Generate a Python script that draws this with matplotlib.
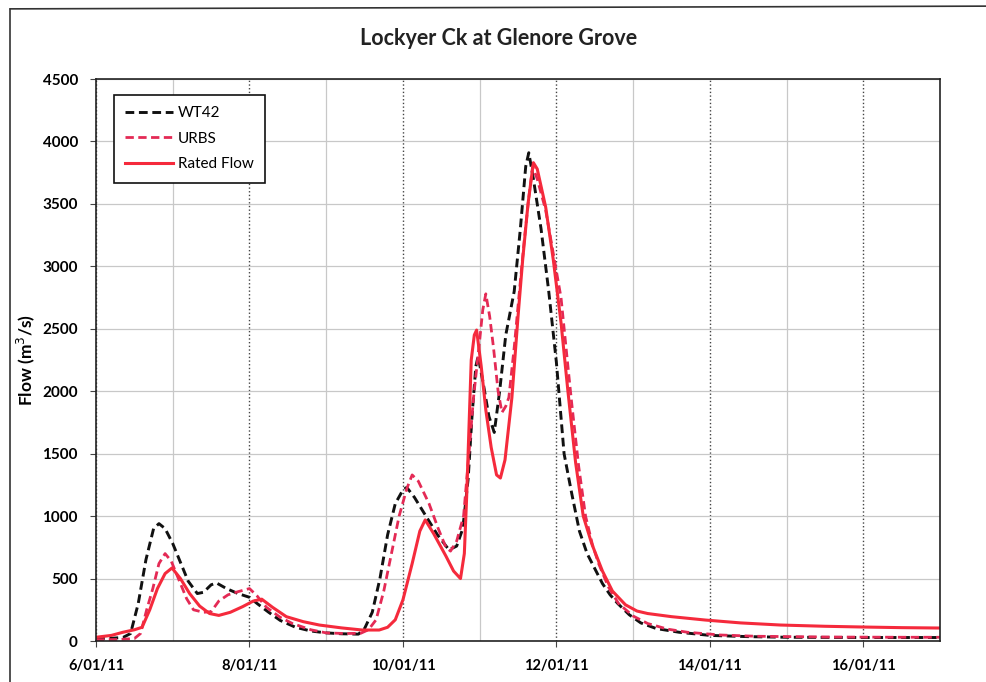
import matplotlib.pyplot as plt
from matplotlib.lines import Line2D
import numpy as np

plt.rcParams['font.family'] = ['Lato', 'DejaVu Sans']

# Flow hydrographs, time in days of January 2011
wt42_day = [6.0, 6.2, 6.35, 6.45, 6.55, 6.65, 6.75, 6.82, 6.9, 7.0, 7.1, 7.2, 7.32, 7.4,
            7.5, 7.57, 7.7, 7.85, 8.0, 8.1, 8.25, 8.4, 8.6, 8.8, 9.0, 9.2, 9.42, 9.5,
            9.6, 9.7, 9.8, 9.9, 10.0, 10.05, 10.15, 10.3, 10.45, 10.6, 10.7, 10.78,
            10.85, 10.9, 10.95, 10.98, 11.05, 11.12, 11.19, 11.26, 11.34, 11.45, 11.53,
            11.6, 11.64, 11.7, 11.8, 11.9, 12.0, 12.1, 12.2, 12.3, 12.4, 12.5, 12.6,
            12.7, 12.8, 12.95, 13.1, 13.3, 13.6, 14.0, 14.5, 15.0, 16.0, 17.0]
wt42_flow = [20, 22, 28, 60, 300, 650, 900, 940, 900, 780, 630, 480, 380, 390,
             450, 465, 420, 380, 350, 300, 230, 165, 110, 80, 65, 58, 55, 100,
             230, 500, 850, 1100, 1210, 1230, 1150, 1000, 850, 730, 760, 900,
             1300, 1800, 2200, 2280, 2050, 1800, 1670, 2000, 2450, 2800, 3300,
             3800, 3910, 3700, 3300, 2800, 2230, 1500, 1180, 880, 700, 580, 460,
             370, 300, 210, 145, 100, 70, 45, 35, 30, 28, 28]

urbs_day = [6.0, 6.3, 6.5, 6.58, 6.66, 6.74, 6.82, 6.9, 6.98, 7.08, 7.18, 7.27, 7.4,
            7.5, 7.6, 7.72, 7.85, 8.0, 8.1, 8.22, 8.4, 8.56, 8.8, 9.0, 9.25, 9.45,
            9.55, 9.65, 9.75, 9.85, 9.95, 10.05, 10.12, 10.2, 10.34, 10.46, 10.56,
            10.62, 10.7, 10.79, 10.86, 10.92, 10.99, 11.04, 11.08, 11.13, 11.18,
            11.24, 11.29, 11.34, 11.38, 11.45, 11.51, 11.58, 11.64, 11.69, 11.75,
            11.86, 11.96, 12.06, 12.15, 12.2, 12.29, 12.38, 12.47, 12.55, 12.68,
            12.81, 13.0, 13.19, 13.45, 13.71, 14.14, 14.6, 15.5, 16.5, 17.0]
urbs_flow = [10, 12, 20, 60, 250, 420, 620, 700, 640, 490, 340, 250, 230,
             235, 320, 370, 395, 420, 360, 270, 190, 140, 90, 65, 60, 62,
             90, 170, 400, 700, 1000, 1220, 1330, 1280, 1100, 900, 750,
             720, 800, 1000, 1500, 1950, 2350, 2650, 2780, 2600, 2350,
             2000, 1830, 1880, 1950, 2350, 2750, 3200, 3550, 3800, 3700,
             3450, 3100, 2750, 2200, 1900, 1400, 1000, 770, 620, 430,
             300, 200, 140, 95, 70, 48, 38, 32, 30, 30]

rated_day = [6.0, 6.2, 6.35, 6.5, 6.6, 6.7, 6.8, 6.9, 6.99, 7.1, 7.22, 7.35, 7.48,
             7.6, 7.75, 7.91, 8.05, 8.16, 8.3, 8.48, 8.7, 8.91, 9.2, 9.47, 9.69,
             9.8, 9.9, 10.0, 10.12, 10.22, 10.29, 10.4, 10.56, 10.66, 10.75, 10.8,
             10.83, 10.86, 10.89, 10.93, 10.96, 11.02, 11.08, 11.15, 11.22, 11.27,
             11.33, 11.42, 11.5, 11.56, 11.63, 11.7, 11.75, 11.86, 11.96, 12.06,
             12.15, 12.25, 12.35, 12.46, 12.6, 12.73, 12.9, 13.05, 13.19, 13.5,
             13.94, 14.4, 14.92, 15.5, 16.0, 16.5, 17.0]
rated_flow = [30, 45, 70, 90, 110, 250, 420, 540, 585, 500, 380, 280, 220,
              205, 230, 275, 320, 335, 270, 195, 155, 128, 105, 88, 88,
              110, 170, 330, 620, 880, 970, 860, 680, 560, 500, 700,
              1150, 1700, 2250, 2450, 2490, 2200, 1850, 1550, 1330, 1305,
              1450, 1950, 2600, 3050, 3500, 3830, 3780, 3475, 3050, 2550,
              2000, 1430, 1000, 780, 560, 400, 290, 240, 220, 195,
              168, 145, 128, 118, 112, 107, 104]

tick_days = [6, 8, 10, 12, 14, 16]

fig = plt.figure(figsize=(9.86, 6.82), dpi=100)
ax = fig.add_axes([0.0974, 0.0601, 0.8560, 0.8240])

ax.plot(wt42_day, wt42_flow, color='#111111', lw=2.1, ls=(0, (3, 1.6)), label='WT42')
ax.plot(urbs_day, urbs_flow, color='#e42a55', lw=2.0, ls=(0, (3, 1.6)), label='URBS')
ax.plot(rated_day, rated_flow, color='#f52a3c', lw=2.2, label='Rated Flow')

ax.set_xlim(6, 17)
ax.set_ylim(0, 4500)
ax.set_xticks(tick_days)
ax.set_xticklabels([f'{d}/01/11' for d in tick_days])
ax.set_xticks(np.arange(7, 17, 2), minor=True)
ax.set_yticks(np.arange(0, 4501, 500))

# daily gridlines: darker dotted on labelled days, light grey between
ax.grid(axis='x', which='major', color='#444444', ls=':', lw=1.0)
ax.grid(axis='x', which='minor', color='#c8c8c8', ls='-', lw=0.9)
ax.grid(axis='y', color='#c8c8c8', ls='-', lw=0.9)
ax.set_axisbelow(True)

ax.tick_params(axis='both', which='both', length=4, width=0.8, color='#444444')
ax.tick_params(axis='x', which='minor', length=0)
ax.tick_params(axis='x', labelsize=10.5, pad=9)
ax.tick_params(axis='y', labelsize=11, pad=9)
for lbl in ax.get_xticklabels() + ax.get_yticklabels():
    lbl.set_fontweight('bold')

for side in ['top', 'right', 'bottom', 'left']:
    ax.spines[side].set_color('#222222')
    ax.spines[side].set_linewidth(1.2)

ax.set_ylabel('Flow (m$^3$/s)', fontsize=12.5, fontweight='bold')
ax.yaxis.set_label_coords(-0.07, 0.5)

fig.text(0.506, 0.944, 'Lockyer Ck at Glenore Grove', ha='center', va='center',
         fontsize=15.5, fontweight='bold', color='#222222')

leg = ax.legend(loc='upper left', bbox_to_anchor=(0.021, 0.972), borderaxespad=0,
                fontsize=11, handlelength=3.1, labelspacing=0.75, fancybox=False,
                framealpha=1, edgecolor='#111111', borderpad=0.75, handletextpad=0.35)
leg.get_frame().set_linewidth(1.2)

# chart area border
fig.add_artist(Line2D([0.0105, 0.0105], [0.0, 0.987], transform=fig.transFigure,
                      color='#333333', lw=1.2))
fig.add_artist(Line2D([0.0105, 1.0], [0.987, 0.991], transform=fig.transFigure,
                      color='#333333', lw=1.2))

fig.savefig('out.png', dpi=100)
